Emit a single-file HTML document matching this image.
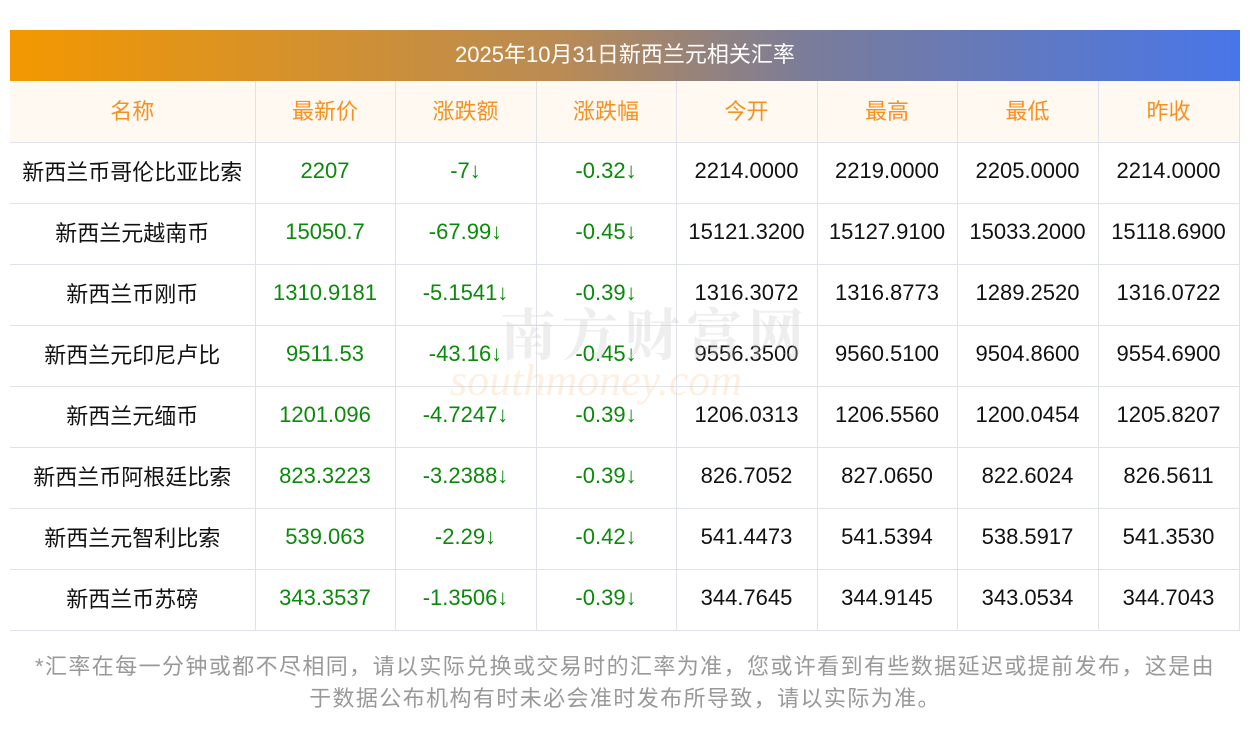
<!DOCTYPE html>
<html><head><meta charset="utf-8"><style>
*{margin:0;padding:0;box-sizing:border-box}
body{width:1250px;height:733px;background:#fff;font-family:"Liberation Sans","Noto Sans CJK SC",sans-serif;position:relative;overflow:hidden}
.bar{position:absolute;left:10px;top:30px;width:1230px;height:51px;background:linear-gradient(90deg,#f39800,#b98b55 45%,#7a7c9a 65%,#4876e8);color:#fff;font-size:22px;text-align:center;line-height:49px}
table{position:absolute;left:10px;top:81px;border-collapse:collapse;table-layout:fixed;width:1229px}
td,th{height:61px;text-align:center;font-size:22px;border-bottom:1px solid #e0e2ea;border-left:1px solid #e0e2ea;font-weight:normal;color:#111;padding:0 0 3px 0;white-space:nowrap}
tr td:first-child,tr th:first-child{border-left:none}
tr td:last-child,tr th:last-child{border-right:1px solid #e0e2ea}
th{background:#fff9f2;color:#f7901e}
.g{color:#0a8a0a}
.wm{position:absolute;left:500px;top:292px;font-size:56px;color:rgba(200,200,200,.3);font-weight:bold;letter-spacing:6px;font-family:"Noto Serif CJK SC",serif}
.wm2{position:absolute;left:450px;top:355px;font-size:44px;color:rgba(247,180,100,.2);font-style:italic;font-family:"Liberation Serif",serif}
.note{position:absolute;left:0;top:651px;width:1250px;text-align:center;color:#999;font-size:22px;line-height:32px;letter-spacing:1.4px}
</style></head><body>
<div class="bar">2025年10月31日新西兰元相关汇率</div>
<table>
<colgroup><col style="width:245px"><col style="width:140px"><col style="width:141px"><col style="width:140px"><col style="width:141px"><col style="width:140px"><col style="width:141px"><col style="width:141px"></colgroup>
<tr><th>名称</th><th>最新价</th><th>涨跌额</th><th>涨跌幅</th><th>今开</th><th>最高</th><th>最低</th><th>昨收</th></tr>
<tr><td>新西兰币哥伦比亚比索</td><td class="g">2207</td><td class="g">-7↓</td><td class="g">-0.32↓</td><td>2214.0000</td><td>2219.0000</td><td>2205.0000</td><td>2214.0000</td></tr>
<tr><td>新西兰元越南币</td><td class="g">15050.7</td><td class="g">-67.99↓</td><td class="g">-0.45↓</td><td>15121.3200</td><td>15127.9100</td><td>15033.2000</td><td>15118.6900</td></tr>
<tr><td>新西兰币刚币</td><td class="g">1310.9181</td><td class="g">-5.1541↓</td><td class="g">-0.39↓</td><td>1316.3072</td><td>1316.8773</td><td>1289.2520</td><td>1316.0722</td></tr>
<tr><td>新西兰元印尼卢比</td><td class="g">9511.53</td><td class="g">-43.16↓</td><td class="g">-0.45↓</td><td>9556.3500</td><td>9560.5100</td><td>9504.8600</td><td>9554.6900</td></tr>
<tr><td>新西兰元缅币</td><td class="g">1201.096</td><td class="g">-4.7247↓</td><td class="g">-0.39↓</td><td>1206.0313</td><td>1206.5560</td><td>1200.0454</td><td>1205.8207</td></tr>
<tr><td>新西兰币阿根廷比索</td><td class="g">823.3223</td><td class="g">-3.2388↓</td><td class="g">-0.39↓</td><td>826.7052</td><td>827.0650</td><td>822.6024</td><td>826.5611</td></tr>
<tr><td>新西兰元智利比索</td><td class="g">539.063</td><td class="g">-2.29↓</td><td class="g">-0.42↓</td><td>541.4473</td><td>541.5394</td><td>538.5917</td><td>541.3530</td></tr>
<tr><td>新西兰币苏磅</td><td class="g">343.3537</td><td class="g">-1.3506↓</td><td class="g">-0.39↓</td><td>344.7645</td><td>344.9145</td><td>343.0534</td><td>344.7043</td></tr>
</table>
<div class="wm">南方财富网</div>
<div class="wm2">southmoney.com</div>
<div class="note">*汇率在每一分钟或都不尽相同，请以实际兑换或交易时的汇率为准，您或许看到有些数据延迟或提前发布，这是由<br>于数据公布机构有时未必会准时发布所导致，请以实际为准。</div>
</body></html>
